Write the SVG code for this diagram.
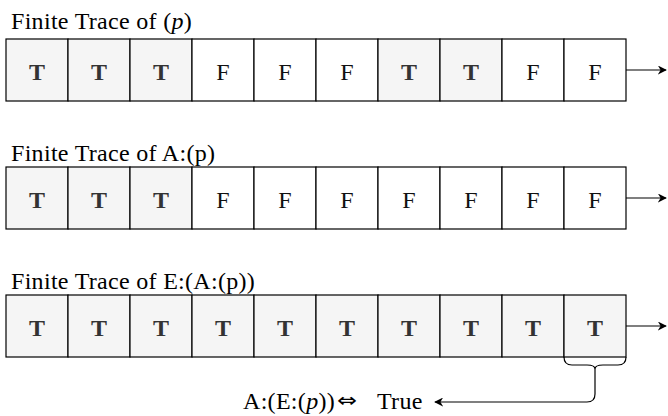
<svg xmlns="http://www.w3.org/2000/svg" width="668" height="416" viewBox="0 0 668 416">
<defs>
<style>
.lbl{font-family:"Liberation Serif","Times New Roman",serif;font-size:24px;letter-spacing:0.3px;fill:#000}
.t{fill:#f5f5f5;stroke:#000;stroke-width:1.2}
.f{fill:#fff;stroke:#000;stroke-width:1.2}
.tt{font-family:"Liberation Serif","Times New Roman",serif;font-size:24px;font-weight:bold;fill:#333;text-anchor:middle}
.ft{font-family:"Liberation Serif","Times New Roman",serif;font-size:24px;fill:#111;text-anchor:middle}
.ln{fill:none;stroke:#000;stroke-width:1.2}
</style>
<marker id="ah" viewBox="0 0 10 10" refX="9" refY="5" markerWidth="9" markerHeight="9" markerUnits="userSpaceOnUse" orient="auto">
<path d="M0,0 L10,5 L0,10 L3,5 Z" fill="#000"/>
</marker>
</defs>
<rect width="668" height="416" fill="#fff"/>

<g id="row1">
<text class="lbl" x="11" y="29">Finite Trace of (<tspan font-style="italic">p</tspan>)</text>
<rect class="t" x="6" y="39" width="62" height="62"/><text class="tt" x="37" y="80">T</text>
<rect class="t" x="68" y="39" width="62" height="62"/><text class="tt" x="99" y="80">T</text>
<rect class="t" x="130" y="39" width="62" height="62"/><text class="tt" x="161" y="80">T</text>
<rect class="f" x="192" y="39" width="62" height="62"/><text class="ft" x="223" y="80">F</text>
<rect class="f" x="254" y="39" width="62" height="62"/><text class="ft" x="285" y="80">F</text>
<rect class="f" x="316" y="39" width="62" height="62"/><text class="ft" x="347" y="80">F</text>
<rect class="t" x="378" y="39" width="62" height="62"/><text class="tt" x="409" y="80">T</text>
<rect class="t" x="440" y="39" width="62" height="62"/><text class="tt" x="471" y="80">T</text>
<rect class="f" x="502" y="39" width="62" height="62"/><text class="ft" x="533" y="80">F</text>
<rect class="f" x="564" y="39" width="62" height="62"/><text class="ft" x="595" y="80">F</text>
</g>

<g id="row2">
<text class="lbl" x="11" y="161">Finite Trace of A:(p)</text>
<rect class="t" x="6" y="167" width="62" height="62"/><text class="tt" x="37" y="208">T</text>
<rect class="t" x="68" y="167" width="62" height="62"/><text class="tt" x="99" y="208">T</text>
<rect class="t" x="130" y="167" width="62" height="62"/><text class="tt" x="161" y="208">T</text>
<rect class="f" x="192" y="167" width="62" height="62"/><text class="ft" x="223" y="208">F</text>
<rect class="f" x="254" y="167" width="62" height="62"/><text class="ft" x="285" y="208">F</text>
<rect class="f" x="316" y="167" width="62" height="62"/><text class="ft" x="347" y="208">F</text>
<rect class="f" x="378" y="167" width="62" height="62"/><text class="ft" x="409" y="208">F</text>
<rect class="f" x="440" y="167" width="62" height="62"/><text class="ft" x="471" y="208">F</text>
<rect class="f" x="502" y="167" width="62" height="62"/><text class="ft" x="533" y="208">F</text>
<rect class="f" x="564" y="167" width="62" height="62"/><text class="ft" x="595" y="208">F</text>
</g>

<g id="row3">
<text class="lbl" x="11" y="289">Finite Trace of E:(A:(p))</text>
<rect class="t" x="6" y="295" width="62" height="62"/><text class="tt" x="37" y="336">T</text>
<rect class="t" x="68" y="295" width="62" height="62"/><text class="tt" x="99" y="336">T</text>
<rect class="t" x="130" y="295" width="62" height="62"/><text class="tt" x="161" y="336">T</text>
<rect class="t" x="192" y="295" width="62" height="62"/><text class="tt" x="223" y="336">T</text>
<rect class="t" x="254" y="295" width="62" height="62"/><text class="tt" x="285" y="336">T</text>
<rect class="t" x="316" y="295" width="62" height="62"/><text class="tt" x="347" y="336">T</text>
<rect class="t" x="378" y="295" width="62" height="62"/><text class="tt" x="409" y="336">T</text>
<rect class="t" x="440" y="295" width="62" height="62"/><text class="tt" x="471" y="336">T</text>
<rect class="t" x="502" y="295" width="62" height="62"/><text class="tt" x="533" y="336">T</text>
<rect class="t" x="564" y="295" width="62" height="62"/><text class="tt" x="595" y="336">T</text>
</g>

<g id="brace">
<path class="ln" d="M564,357 Q564,365 572,365 L587,365 Q595,365 595,369 Q595,365 603,365 L618,365 Q626,365 626,357"/>
</g>

<g id="result">
<text class="lbl" x="243" y="409">A:(E:(<tspan font-style="italic">p</tspan>))</text>
<text x="337" y="407" font-family="'DejaVu Sans',sans-serif" font-size="20px" textLength="20" lengthAdjust="spacingAndGlyphs">⇔</text>
<text class="lbl" x="377" y="409">True</text>
</g>

<g id="connectors">
<line class="ln" x1="626" y1="70" x2="666" y2="70" marker-end="url(#ah)"/>
<line class="ln" x1="626" y1="198" x2="666" y2="198" marker-end="url(#ah)"/>
<line class="ln" x1="626" y1="326" x2="666" y2="326" marker-end="url(#ah)"/>
<path class="ln" d="M595,369 L595,394 Q595,402 587,402 L435,402" marker-end="url(#ah)"/>
</g>
</svg>
